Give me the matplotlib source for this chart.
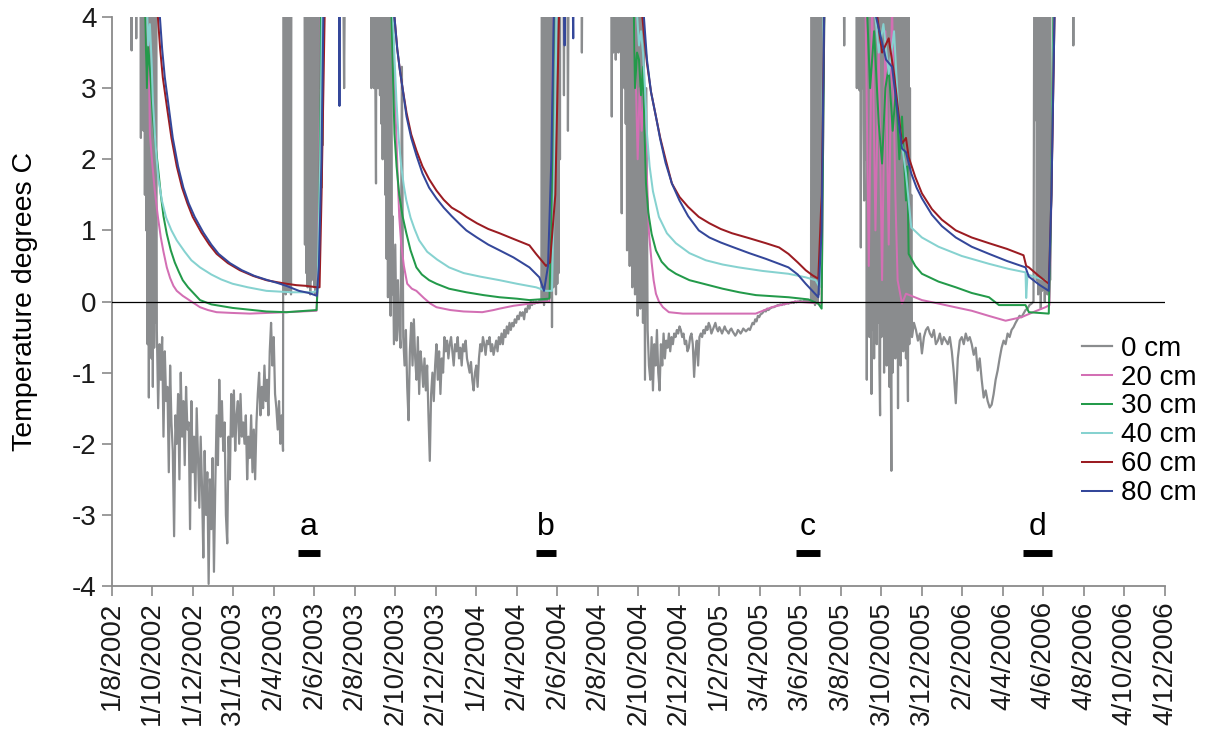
import numpy as np
import pandas as pd
import matplotlib
matplotlib.use('Agg')
import matplotlib.pyplot as plt

plt.rcParams['font.family'] = ['Liberation Sans', 'DejaVu Sans']

# day numbers are counted from the first logger day
ORIGIN = pd.Timestamp('2002-08-01')

tick_labels = ['1/8/2002', '1/10/2002', '1/12/2002', '31/1/2003', '2/4/2003',
               '2/6/2003', '2/8/2003', '2/10/2003', '2/12/2003', '1/2/2004',
               '2/4/2004', '2/6/2004', '2/8/2004', '2/10/2004', '2/12/2004',
               '1/2/2005', '3/4/2005', '3/6/2005', '3/8/2005', '3/10/2005',
               '3/12/2005', '2/2/2006', '4/4/2006', '4/6/2006', '4/8/2006',
               '4/10/2006', '4/12/2006']

depth_labels = ['0 cm', '20 cm', '30 cm', '40 cm', '60 cm', '80 cm']
depth_colors = ['#8a8c8e', '#d36fb4', '#239a4a', '#86d2d0', '#9b1c22', '#34479a']

# sampling periods marked under the curves
period_names = ['a', 'b', 'c', 'd']
period_start = ['2003-05-08', '2004-05-01', '2005-05-27', '2006-05-04']
period_end = ['2003-06-10', '2004-05-31', '2005-07-02', '2006-06-17']

# 0 cm logger: (first day, step in days, readings)
surface_runs = [
    (0, 4, [9, 10, 8, 9, 10, 9, 8]),
    (28, 1, [8, 6.5, 3.53, 7, 8, 9, 7, 8, 6, 3.7, 7, 8, 6, 7, 5, 6, 2.3, 7, 2.8, 6,
             2.4, 8, 1.5, 6, 1.0, 7, -0.6, 5, -1.35, 6, 0.2, 5, -0.8, 4.5, -1.2, 6,
             -0.65, 5.0, -0.3, 4.2]),
    (68, 2, [-0.4, -1.5, -0.6, -1.1, -0.5, -1.9, -0.7, -1.4, -1.2, -2.4, -0.9, -1.7,
             -2.1, -3.3, -1.6, -2.0, -1.3, -2.5, -1.0, -1.9, -1.4, -2.3, -1.2, -1.8,
             -1.7, -3.2, -1.4, -2.4, -1.9, -2.8, -1.5, -2.2, -2.9, -1.9, -2.6, -3.6,
             -2.1, -3.0, -2.4, -3.97, -2.5, -3.2, -2.2, -3.8, -2.6, -1.6, -2.3, -1.1,
             -1.9, -1.4, -2.1, -1.7, -3.0, -3.4, -1.9, -2.5, -1.3, -1.9, -1.25, -2.1,
             -1.6, -1.4, -2.0, -1.3, -1.9, -1.7, -2.0, -1.6, -2.5, -1.9, -2.2, -1.6,
             -2.4, -1.8, -2.5, -1.7, -1.3, -1.0, -1.6, -1.2, -1.5, -0.9, -1.4, -1.1,
             -1.6, -0.7, -0.3, -0.9, -0.5, -1.3, -1.5, -1.8, -1.4, -2.0, -1.6, -2.1]),
    (259, 1, [9, 0.3, 8, 0.1, 7, 0.2, 9, 0.15, 8, 0.4, 7, 0.1, 8, 9]),
    (276, 4, [10, 9, 10]),
    (290, 1, [8, 0.8, 9, 0.4, 7, 0.2, 8, 0.6, 9, 0.1, 7, 0.3, 8, 0.5, 9, 0.2, 8, 0.1,
              7, 0.3, 8, 0.2, 9]),
    (313, 1, [8, 3.0, 9, 1.6, 8, 2.2, 9]),
    (325, 5, [10, 9, 11, 10, 9, 3.0, 10, 11, 10, 9, 10, 9, 10]),
    (386, 1, [9, 10, 8, 9, 10, 3.0, 8, 3.2, 9, 3.0, 8, 3.1, 1.66, 7, 3.0, 8, 3.0, 7,
              2.9, 8, 2.5, 7, 2.0, 6, 3.0, 7, 1.5, 6, 0.6, 5, 0.06, 6, 0.3, 5, -0.2, 6,
              0.1]),
    (423, 2, [1.2, -0.6, 0.8, -0.55, 0.3, -0.4, -0.65, 3.3, -0.5,
              -0.9, -0.4, -1.2, -1.67, -0.7, -0.3, -0.9, -0.25,
              -0.8, -1.1, -0.5, -1.3, -0.7, -0.9, -1.2, -0.8, -1.25, -0.9, -1.6,
              -2.24,
              -1.3, -1.0, -1.4, -0.9, -0.6, -1.1, -0.7, -1.3, -0.8, -1.0, -0.5, -0.7,
              -0.55, -0.8, -0.6, -0.5, -0.7, -0.9, -0.6, -0.7, -0.5, -0.8, -0.65,
              -0.9, -0.6, -0.7, -0.55,
              -0.8, -0.9, -1.0, -0.85, -1.1, -1.25, -1.0, -0.9, -1.2, -0.8,
              -0.6, -0.7, -0.5, -0.6, -0.75, -0.55, -0.6, -0.5, -0.7, -0.6, -0.75,
              -0.65, -0.55, -0.7, -0.5, -0.6, -0.45, -0.6,
              -0.4, -0.5, -0.35, -0.45, -0.3, -0.4, -0.3, -0.35, -0.25, -0.3, -0.2,
              -0.25, -0.15, -0.2, -0.15, -0.25, -0.1, -0.15, -0.05, -0.1,
              0.0, -0.05, 0.0, -0.03, 0.0, -0.02, 0.0, 0.02, 0.0]),
    (648, 1, [8, 0.0, 9, -0.05, 7, 0.1, 8, 0.0, 9, 0.2, 7, 0.05, 8, 0.1, 9, -0.36, 8,
              0.2, 7, 0.3, 9, 0.1, 8, 0.25, 9, 0.4, 8, 2.0, 9]),
    (678, 3, [9, 2.9, 10, 2.4, 9, 10, 9, 10, 9, 10, 3.5, 9]),
    (714, 5, [10, 9, 10, 11, 9, 10, 9, 10]),
    (752, 1, [8, 2.6, 9, 3.5, 8, 3.7, 9, 3.4, 8, 3.8, 9, 3.5, 7, 3.6, 8, 3.4, 1.24, 7,
              3.5, 8, 3.0, 7, 2.5, 6, 0.72, 7, 1.5, 6, 0.5, 7, 1.0, 6, 0.2, 5, 0.6, 6,
              0.1, 5, 0.4, 6, -0.2, 5, 0.3, 4.5, -0.1, 5, 0.0, 4.2, -0.3]),
    (801, 2, [4.5, -1.1, 3.0,
              -0.4, -0.9, -1.1, -0.5, -1.25, -0.6, -0.9, -0.4, -1.0, -1.25, -0.6,
              -0.9, -0.45, -0.8, -0.55, -0.65, -0.45, -0.7, -0.5,
              -0.6, -0.45, -0.5, -0.4, -0.45, -0.35, -0.4, -0.5, -0.45, -0.6, -0.55,
              -0.7, -0.65, -0.5, -0.45,
              -0.6, -1.06, -0.7, -0.55, -0.9, -0.5, -0.45,
              -0.5, -0.4, -0.45, -0.35, -0.4, -0.3, -0.35, -0.45, -0.4, -0.35, -0.3,
              -0.38, -0.42, -0.36, -0.4, -0.45, -0.4, -0.35, -0.4, -0.42, -0.45,
              -0.4, -0.38, -0.42, -0.45, -0.48,
              -0.45, -0.4, -0.42, -0.45, -0.42, -0.38, -0.4, -0.42, -0.4, -0.38,
              -0.4, -0.35,
              -0.3, -0.32, -0.25, -0.28, -0.2, -0.22, -0.18, -0.17,
              -0.15, -0.12, -0.14, -0.1, -0.12, -0.1, -0.09, -0.08, -0.08, -0.07,
              -0.06, -0.05, -0.05, -0.04, -0.05, -0.03, -0.04, -0.03, -0.02, -0.03,
              -0.02, -0.02, -0.01, -0.02, 0.0, -0.01, 0.0, 0.0, 0.01, 0.0, 0.0, 0.02,
              0.0, 0.01, 0.0, 0.02, 0.0]),
    (1054, 1, [8, 0.0, 9, 0.1, 7, -0.05, 8, 0.2, 9, 0.0, 7, 0.1, 8, 0.3, 9, 0.2, 10]),
    (1073, 5, [10, 9, 11, 10, 9, 10, 3.6, 10, 9, 10]),
    (1121, 1, [8, 3.0, 9, 3.2, 8, 2.97, 9, 0.76, 8, 3.0, 7, 2.5, 1.42, 8, 2.0, 7, -1.1,
               6, 0.2, 7, -0.5, 5, 0.5, -1.3, 6, -0.4, 7, -0.8, 5, 0.0, 6, -0.6, 8,
               -0.3, 6, -0.9, -1.6, 5, -0.5, 7, -0.2, 6, -1.0, 5, -0.6, 8, -0.9, 6,
               -0.4, 7, -1.2, 5, -0.7, -2.38, 6, -1.0, 7, -0.5, 5, -0.8, 6, -0.3, 4.5,
               -1.5, 6, -0.6, 5, -0.9, 7, -0.4, 5, -0.7, 6, -0.3, 4.5, -0.8, 5, -0.5,
               -1.4, 4.2, -0.6, 3.0, -0.4, 1.5]),
    (1205, 3, [-0.5, -0.3, -0.4, -0.55, -0.45, -0.73, -0.5, -0.4, -0.36, -0.45,
               -0.5, -0.4, -0.6, -0.55, -0.45, -0.6, -0.5, -0.55, -0.6, -0.5, -0.7,
               -1.0, -1.43, -0.8, -0.55, -0.5, -0.6, -0.45, -0.55, -0.5, -0.6, -0.75,
               -0.65, -0.97, -0.8, -1.1, -1.35, -1.25, -1.4, -1.49, -1.45, -1.3, -1.1,
               -0.97, -0.8, -0.65, -0.55, -0.6, -0.45, -0.5, -0.4, -0.36, -0.3, -0.25,
               -0.2, -0.22, -0.17, -0.12, -0.1, -0.05, -0.03, 0.0]),
    (1390, 1, [8, 2.55, 9, 0.3, 7, 0.1, 8, 0.2, 9, -0.1, 7, 0.15, 8, 0.3, 9, 0.0, 8,
               0.2, 9, 0.1, 7, 0.25, 8, 0.3, 9, 10]),
    (1418, 5, [9, 10, 11, 10, 9, 10, 3.6, 10, 9, 10, 11, 10, 9, 10, 11, 10, 9, 10,
               9, 10, 11, 10, 9, 10, 9, 10, 11, 10, 9, 10, 9, 10, 11, 10]),
]

# deeper loggers: (day, temperature)
cm20 = [(0, 9), (45, 9), (50, 4.2), (53, 3.0), (55.5, 3.8), (57.5, 2.36), (61, 1.95),
        (65, 1.55), (69.6, 1.19), (74, 0.9), (78, 0.7), (83, 0.48), (88, 0.33),
        (93, 0.22), (98, 0.15), (107, 0.08), (120, 0.0), (133, -0.08), (145, -0.12),
        (158, -0.15), (180, -0.16), (208, -0.17), (263, -0.15), (308.5, -0.13),
        (311, 0.5), (314, 3.0), (318, 9),
        (415, 9), (423, 4.2), (425.5, 3.2), (428, 2.5), (430.5, 1.8), (433, 1.19),
        (436, 0.8), (440, 0.5), (445, 0.25), (452, 0.18), (458.8, 0.15), (470, 0.05),
        (480, -0.03), (489, -0.08), (510, -0.12), (530, -0.14), (558, -0.15),
        (575, -0.12), (584, -0.1), (605, -0.06), (629, -0.03), (659, 0.0), (662, 1.0),
        (665, 4.2), (675, 9),
        (780, 9), (786, 4.2), (789, 3.2), (792, 2.0), (795, 3.0), (798, 2.4), (802, 3.0),
        (805, 2.0), (809, 0.96), (813, 0.55), (816, 0.3), (819.5, 0.11), (824, 0.0),
        (830, -0.08), (839, -0.15), (860, -0.17), (894.6, -0.17), (969.7, -0.17),
        (993.8, -0.08), (1029.8, 0.0), (1069, -0.03), (1071, 2.0), (1074, 5), (1080, 9),
        (1130, 9), (1135, 4.2), (1140, 0.5), (1145, 4.2), (1150, 1.0), (1155, 3.5),
        (1160, 0.3), (1165, 3.8), (1170, 0.8), (1175, 4.2), (1180, 1.5), (1183.4, 0.3),
        (1190, -0.03), (1196, 0.11), (1220, 0.02), (1245.5, -0.03), (1270, -0.08),
        (1295, -0.13), (1320, -0.2), (1346, -0.27), (1370, -0.22), (1390, -0.14),
        (1406, -0.08), (1412, -0.05), (1415, 1.5), (1419, 4.2), (1425, 9), (1586, 9)]

cm30 = [(0, 9), (45, 9), (50, 4.2), (53, 3.0), (55, 3.6), (57.5, 3.3), (62, 2.6),
        (66, 2.2), (69.6, 1.9), (74, 1.5), (78, 1.2), (83, 0.95), (89, 0.72), (95, 0.55),
        (101, 0.42), (107, 0.3), (115, 0.2), (123, 0.12), (133, 0.02), (150, -0.04),
        (182, -0.09), (233, -0.14), (263, -0.15), (308.5, -0.12), (311.5, 0.5),
        (314.5, 3.0), (318, 9),
        (415, 9), (421, 4.2), (423.5, 3.2), (425.8, 2.36), (429, 1.9), (433, 1.5),
        (438, 1.2), (443.7, 0.96), (450, 0.72), (458.8, 0.48), (467, 0.38), (478, 0.3),
        (489, 0.25), (508, 0.18), (534, 0.13), (560, 0.09), (584, 0.06), (610, 0.04),
        (629, 0.02), (659, 0.04), (662, 1.0), (666, 4.2), (675, 9),
        (780, 9), (786, 4.2), (788, 3.0), (791, 3.5), (794, 3.4), (797, 2.9), (800, 3.3),
        (802, 2.5), (804.5, 1.66), (808, 1.25), (813, 0.95), (819.5, 0.72), (828, 0.56),
        (838, 0.46), (849.5, 0.39), (870, 0.3), (895, 0.24), (920, 0.18), (945, 0.13),
        (970, 0.09), (1019.3, 0.06), (1049, 0.03), (1064, -0.03), (1069, -0.1),
        (1071, 2.0), (1074, 5.0), (1080, 9),
        (1130, 9), (1137, 4.2), (1142, 3.0), (1148, 3.8), (1155, 2.5), (1160, 1.94),
        (1165, 3.0), (1170, 3.3), (1176, 2.4), (1181, 3.0), (1186, 2.0), (1190, 2.6),
        (1196, 1.42), (1198, 1.9), (1200, 0.67), (1210, 0.5), (1220, 0.39), (1245, 0.28),
        (1271, 0.2), (1295, 0.12), (1321, 0.06), (1336, -0.05), (1376, -0.05),
        (1381, -0.15), (1411, -0.17), (1414, 1.0), (1418, 4.2), (1425, 9), (1586, 9)]

cm40 = [(0, 9), (45, 9), (52, 4.5), (55, 3.6), (57.5, 3.9), (60, 3.4), (62, 2.83),
        (66, 2.2), (70, 1.75), (75.6, 1.42), (82, 1.18), (90, 1.0), (98, 0.86),
        (110, 0.7), (120, 0.58), (133, 0.48), (150, 0.38), (165, 0.31), (182, 0.25),
        (205, 0.2), (233, 0.15), (270, 0.13), (302, 0.13), (310, 0.15), (314, 2.0),
        (318, 5), (325, 9),
        (415, 9), (423, 4.2), (426, 3.4), (428.7, 2.83), (432, 2.3), (436, 1.9),
        (440, 1.62), (443.7, 1.42), (450, 1.18), (456, 1.02), (463, 0.86), (475, 0.7),
        (490, 0.59), (508, 0.48), (530, 0.4), (555, 0.35), (584, 0.3), (610, 0.25),
        (639, 0.2), (654, 0.15), (663, 0.15), (667, 2.0), (671, 5), (680, 9),
        (785, 9), (790, 4.2), (794, 3.6), (797, 3.8), (800, 3.5), (803, 3.0), (806, 2.36),
        (810, 1.9), (815, 1.55), (824, 1.19), (836, 0.96), (849.5, 0.82), (870, 0.68),
        (894.6, 0.58), (920, 0.52), (944, 0.48), (980, 0.43), (1019, 0.39), (1045, 0.34),
        (1060, 0.3), (1066, 0.2), (1069, 1.5), (1072, 4.2), (1080, 9),
        (1140, 9), (1148, 4.2), (1155, 3.5), (1162, 3.9), (1170, 3.2), (1178, 3.8),
        (1185, 2.6), (1190, 2.2), (1196, 1.8), (1204, 1.04), (1220, 0.9), (1245, 0.77),
        (1280, 0.64), (1321, 0.53), (1350, 0.46), (1376, 0.41), (1377, 0.05),
        (1379, 0.38), (1405, 0.3), (1411, 0.25), (1415, 1.5), (1419, 4.2), (1430, 9),
        (1586, 9)]

cm60 = [(0, 9), (50, 9), (65, 6), (69.6, 4.0), (73, 3.55), (77, 3.15), (83, 2.75),
        (90, 2.3), (98, 1.9), (106, 1.6), (114, 1.38), (122, 1.19), (135, 0.97),
        (147, 0.8), (158, 0.67), (175, 0.54), (193, 0.44), (213, 0.36), (233, 0.3),
        (250, 0.27), (263, 0.25), (278, 0.23), (293, 0.22), (309, 0.2), (313, 0.2),
        (316, 1.5), (321, 4.2), (330, 9),
        (418, 9), (425.8, 4.0), (430, 3.55), (434, 3.25), (438, 3.0), (444, 2.65),
        (451, 2.35), (459, 2.12), (468, 1.9), (478, 1.72), (489, 1.56), (500, 1.43),
        (512, 1.32), (525, 1.25), (534, 1.19), (550, 1.1), (567, 1.02), (584, 0.96),
        (605, 0.88), (629, 0.79), (639, 0.67), (647, 0.58), (654, 0.5), (660, 0.55),
        (668, 1.5), (674, 4.2), (680, 9),
        (790, 9), (795, 4.4), (801.4, 3.77), (806, 3.35), (812, 2.95), (819.5, 2.6),
        (826, 2.3), (834, 2.0), (843.5, 1.66), (855, 1.47), (868, 1.33), (884, 1.19),
        (900, 1.1), (917, 1.02), (934, 0.96), (960, 0.89), (985, 0.82), (1005, 0.76),
        (1019, 0.67), (1033, 0.55), (1045, 0.44), (1055, 0.37), (1064, 0.32),
        (1069, 1.5), (1073, 4.2), (1080, 9),
        (1140, 9), (1150, 4.2), (1160, 3.5), (1170, 3.7), (1178, 3.2), (1190, 2.22),
        (1196, 2.3), (1200, 2.03), (1210, 1.75), (1220, 1.52), (1235, 1.3), (1250, 1.15),
        (1271, 1.0), (1295, 0.9), (1321, 0.82), (1348, 0.74), (1373, 0.65), (1377, 0.5),
        (1381, 0.48), (1396, 0.36), (1411, 0.25), (1415, 1.5), (1420, 4.2), (1430, 9),
        (1586, 9)]

cm80 = [(0, 9), (55, 9), (68, 6), (72.6, 4.0), (76, 3.55), (80, 3.15), (85, 2.8),
        (92, 2.3), (100, 1.9), (108, 1.6), (116, 1.38), (125, 1.19), (138, 0.97),
        (150, 0.8), (161, 0.67), (178, 0.54), (196, 0.44), (215, 0.36), (235, 0.3),
        (250, 0.26), (263, 0.22), (282, 0.15), (297, 0.12), (309, 0.08), (312, 0.5),
        (316, 2.0), (319, 4.2), (325, 9), (341, 9), (343, 2.75), (345, 9),
        (418, 9), (425.8, 4.0), (430, 3.55), (434, 3.25), (438, 3.0), (444, 2.6),
        (451, 2.3), (459, 2.05), (468, 1.8), (478, 1.6), (489, 1.45), (500, 1.32),
        (512, 1.2), (525, 1.08), (534, 1.0), (550, 0.9), (567, 0.8), (584, 0.72),
        (605, 0.62), (629, 0.48), (644, 0.34), (651, 0.15), (657, 0.5), (662, 2.0),
        (666, 4.2), (675, 9), (682, 3.6), (686, 9), (695, 3.7), (700, 9),
        (790, 9), (797, 4.4), (801.4, 4.0), (806, 3.4), (812, 2.95), (819.5, 2.6),
        (826, 2.28), (834, 1.95), (843.5, 1.66), (855, 1.42), (868, 1.2), (884, 1.0),
        (900, 0.9), (917, 0.83), (934, 0.77), (960, 0.68), (985, 0.6), (1005, 0.53),
        (1019, 0.48), (1033, 0.38), (1045, 0.25), (1055, 0.15), (1064, 0.06),
        (1069, 1.0), (1073, 4.2), (1080, 9),
        (1140, 9), (1151, 4.0), (1166, 3.4), (1175, 3.3), (1190, 2.15), (1196, 2.1),
        (1204, 1.8), (1212, 1.6), (1220, 1.45), (1235, 1.22), (1250, 1.06), (1271, 0.9),
        (1295, 0.77), (1321, 0.67), (1348, 0.57), (1376, 0.48), (1381, 0.35),
        (1396, 0.24), (1411, 0.15), (1415, 1.5), (1420, 4.2), (1430, 9), (1586, 9)]


def to_day(dates, fmt=None):
    return np.asarray((pd.to_datetime(dates, format=fmt) - ORIGIN).days, dtype=float)


def surface_series(runs):
    days, temps = [], []
    for first, step, readings in runs:
        days.extend(first + step * np.arange(len(readings)))
        temps.extend(readings)
    return np.array(days), np.array(temps)


fig = plt.figure(figsize=(12.06, 7.33), dpi=100)
ax = fig.add_axes([0.0926, 0.2005, 0.8734, 0.7763])

series = [surface_series(surface_runs)]
for rows in (cm20, cm30, cm40, cm60, cm80):
    arr = np.array(rows)
    series.append((arr[:, 0], arr[:, 1]))

handles = []
for i, ((days, temps), color, label) in enumerate(zip(series, depth_colors, depth_labels)):
    line, = ax.plot(days, temps, color=color, lw=1.6 if i == 0 else 1.45,
                    label=label)
    handles.append(line)

ax.axhline(0, color='black', lw=0.9, zorder=5)

# sampling periods
starts = to_day(period_start)
ends = to_day(period_end)
for name, s, e in zip(period_names, starts, ends):
    ax.plot([s, e], [-3.54, -3.54], color='black', lw=5, solid_capstyle='butt')
    ax.text((s + e) / 2, -3.17, name, ha='center', va='center', fontsize=23)

ticks = to_day(tick_labels, fmt='%d/%m/%Y')
ax.set_xlim(ticks[0], ticks[-1])
ax.set_ylim(-4, 4)
ax.set_xticks(ticks)
ax.set_xticklabels(tick_labels, rotation=90, fontsize=20)
ax.set_yticks(range(-4, 5))
ax.set_yticklabels([str(v) for v in range(-4, 5)], fontsize=20)
ax.set_ylabel('Temperature degrees C', fontsize=20.5, labelpad=24)

for side in ('top', 'right'):
    ax.spines[side].set_visible(False)
for side in ('left', 'bottom'):
    ax.spines[side].set_color('#8a8a8a')
    ax.spines[side].set_linewidth(1.3)
ax.tick_params(direction='out', length=7, width=1.2, color='#8a8a8a',
               labelcolor='#1a1a1a', pad=4)

ax.legend(handles=handles, loc='upper left', bbox_to_anchor=(0.921, 0.44),
          frameon=False, fontsize=20, handlelength=1.1, handletextpad=0.3,
          labelspacing=0.105, borderaxespad=0, borderpad=0)

fig.savefig('out.png', dpi=100)
